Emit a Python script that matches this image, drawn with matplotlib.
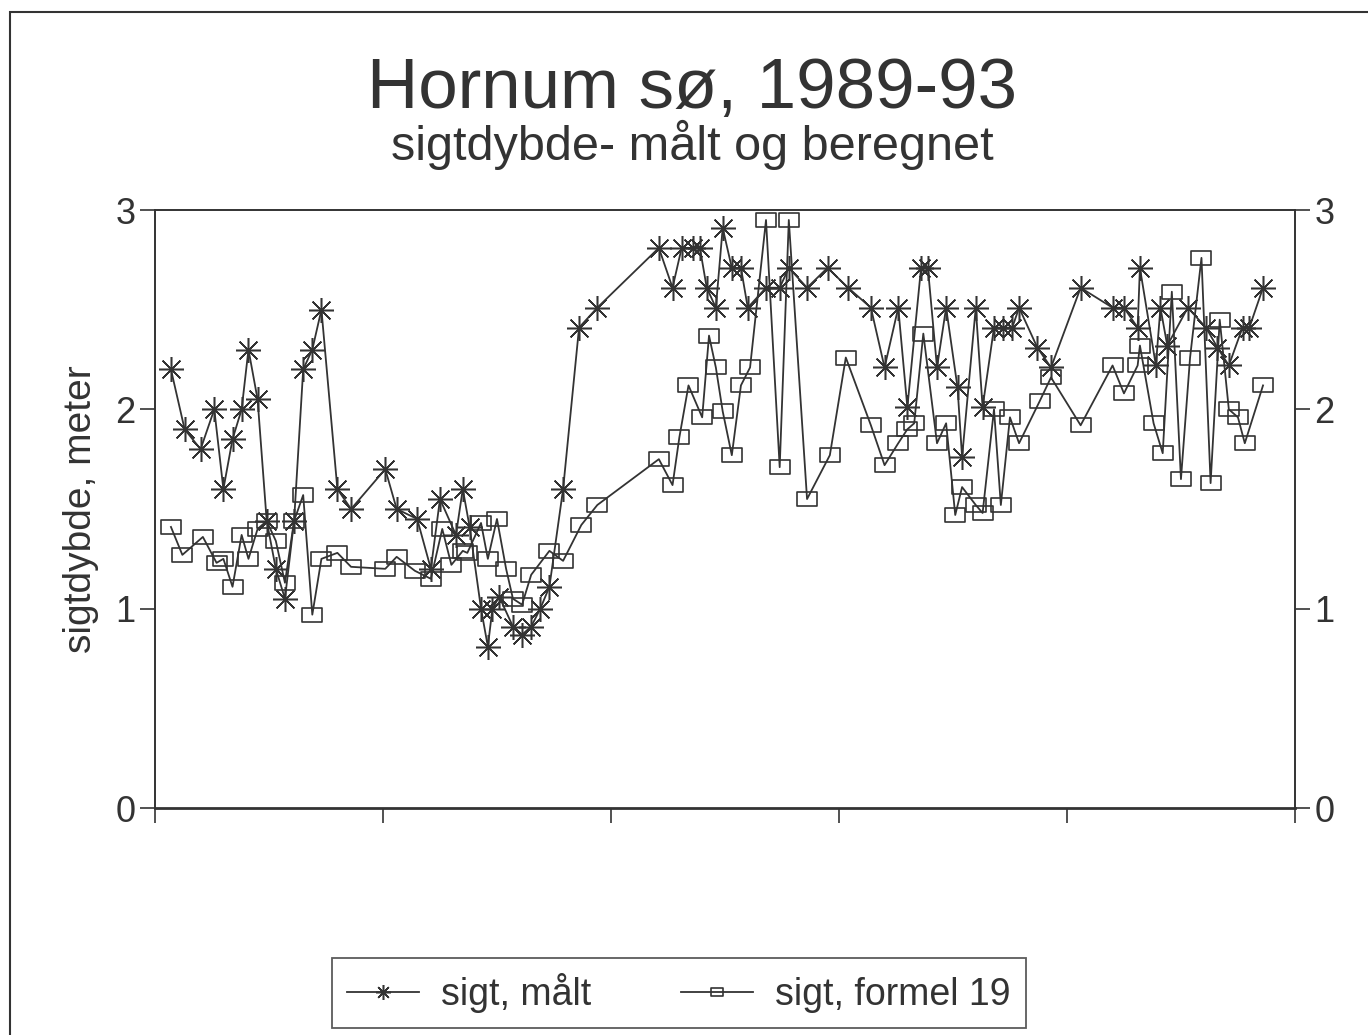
import numpy as np
import matplotlib
matplotlib.use("Agg")
import matplotlib.pyplot as plt
from matplotlib.path import Path
from matplotlib.patches import Rectangle

plt.rcParams['font.family'] = ['Liberation Sans', 'DejaVu Sans']

# Sampling dates (decimal years) and measured Secchi depth (m)
maalt_tid = [1989.07, 1989.13, 1989.20, 1989.26, 1989.30, 1989.34, 1989.38, 1989.41, 1989.45, 1989.49,
             1989.53, 1989.57, 1989.61, 1989.65, 1989.69, 1989.73, 1989.80, 1989.86, 1990.01, 1990.06,
             1990.15, 1990.21, 1990.25, 1990.32, 1990.35, 1990.38, 1990.43, 1990.46, 1990.48, 1990.51,
             1990.57, 1990.61, 1990.65, 1990.69, 1990.73, 1990.79, 1990.86, 1990.94, 1991.21, 1991.27,
             1991.31, 1991.36, 1991.39, 1991.42, 1991.46, 1991.49, 1991.53, 1991.57, 1991.60, 1991.68,
             1991.74, 1991.78, 1991.86, 1991.95, 1992.04, 1992.14, 1992.20, 1992.26, 1992.30, 1992.36,
             1992.39, 1992.43, 1992.47, 1992.52, 1992.54, 1992.60, 1992.63, 1992.68, 1992.72, 1992.76,
             1992.79, 1992.87, 1992.93, 1993.06, 1993.20, 1993.25, 1993.31, 1993.32, 1993.39, 1993.41,
             1993.44, 1993.53, 1993.61, 1993.66, 1993.71, 1993.77, 1993.80, 1993.86]
maalt_sigt = [2.20, 1.90, 1.80, 2.00, 1.60, 1.85, 2.00, 2.30, 2.05, 1.44,
              1.20, 1.05, 1.44, 2.20, 2.30, 2.50, 1.60, 1.50, 1.70, 1.50,
              1.45, 1.20, 1.55, 1.37, 1.60, 1.41, 1.00, 0.81, 1.00, 1.06,
              0.91, 0.87, 0.91, 1.00, 1.11, 1.60, 2.41, 2.51, 2.81, 2.61,
              2.81, 2.81, 2.81, 2.61, 2.51, 2.91, 2.71, 2.71, 2.51, 2.61,
              2.61, 2.71, 2.61, 2.71, 2.61, 2.51, 2.21, 2.51, 2.01, 2.71,
              2.71, 2.21, 2.51, 2.11, 1.76, 2.51, 2.01, 2.41, 2.41, 2.41,
              2.51, 2.31, 2.21, 2.61, 2.51, 2.51, 2.41, 2.71, 2.22, 2.51,
              2.32, 2.51, 2.41, 2.31, 2.22, 2.41, 2.41, 2.61]

# Calculated Secchi depth (formel 19)
formel_tid = [1989.07, 1989.12, 1989.21, 1989.27, 1989.30, 1989.34, 1989.38, 1989.41, 1989.45, 1989.49,
              1989.53, 1989.57, 1989.61, 1989.65, 1989.69, 1989.73, 1989.80, 1989.86, 1990.01, 1990.06,
              1990.14, 1990.21, 1990.26, 1990.30, 1990.35, 1990.37, 1990.43, 1990.46, 1990.50, 1990.54,
              1990.57, 1990.61, 1990.65, 1990.73, 1990.79, 1990.87, 1990.94, 1991.21, 1991.27, 1991.30,
              1991.34, 1991.40, 1991.43, 1991.46, 1991.49, 1991.53, 1991.57, 1991.61, 1991.68, 1991.74,
              1991.78, 1991.86, 1991.96, 1992.03, 1992.14, 1992.20, 1992.26, 1992.30, 1992.33, 1992.37,
              1992.43, 1992.47, 1992.51, 1992.54, 1992.60, 1992.63, 1992.68, 1992.71, 1992.75, 1992.79,
              1992.88, 1992.93, 1993.06, 1993.20, 1993.25, 1993.31, 1993.32, 1993.38, 1993.42, 1993.46,
              1993.50, 1993.54, 1993.59, 1993.63, 1993.67, 1993.71, 1993.75, 1993.78, 1993.86]
formel_sigt = [1.41, 1.27, 1.36, 1.23, 1.25, 1.11, 1.37, 1.25, 1.40, 1.44,
               1.34, 1.13, 1.44, 1.57, 0.97, 1.25, 1.28, 1.21, 1.20, 1.26,
               1.19, 1.15, 1.40, 1.22, 1.29, 1.28, 1.43, 1.25, 1.45, 1.20,
               1.05, 1.02, 1.17, 1.29, 1.24, 1.42, 1.52, 1.75, 1.62, 1.86,
               2.12, 1.96, 2.37, 2.21, 1.99, 1.77, 2.12, 2.21, 2.95, 1.71,
               2.95, 1.55, 1.77, 2.26, 1.92, 1.72, 1.83, 1.90, 1.93, 2.38,
               1.83, 1.93, 1.47, 1.61, 1.52, 1.48, 2.00, 1.52, 1.96, 1.83,
               2.04, 2.16, 1.92, 2.22, 2.08, 2.22, 2.32, 1.93, 1.78, 2.59,
               1.65, 2.26, 2.76, 1.63, 2.45, 2.00, 1.96, 1.83, 2.12]

aar_ticks = [1989, 1990, 1991, 1992, 1993, 1994]
y_ticks = [0, 1, 2, 3]

ink = '#333333'

# 8-armed asterisk and a slightly wide rectangle as markers
asterisk = (8, 2, 0)
rect = Path([(-1, -0.72), (1, -0.72), (1, 0.72), (-1, 0.72), (-1, -0.72)],
            [Path.MOVETO, Path.LINETO, Path.LINETO, Path.LINETO, Path.CLOSEPOLY])

fig = plt.figure(figsize=(13.68, 10.35), dpi=100)
ax = fig.add_axes([0.1133, 0.2193, 0.8333, 0.5778])

ax.plot(maalt_tid, maalt_sigt, color=ink, lw=1.3, marker=asterisk, ms=18,
        mew=1.1, mec=ink, label='sigt, målt', zorder=3)
ax.plot(formel_tid, formel_sigt, color=ink, lw=1.3, marker=rect, ms=14,
        mew=1.2, mec=ink, mfc='none', label='sigt, formel 19', zorder=3)

ax.set_xlim(aar_ticks[0], aar_ticks[-1])
ax.set_ylim(0, 3)
ax.set_xticks(aar_ticks)
ax.set_xticklabels([])
ax.set_yticks(y_ticks)
ax.tick_params(axis='y', which='both', left=True, right=True, labelleft=True,
               labelright=True, direction='out', length=11, width=1.2,
               labelsize=26, colors=ink, pad=3)
ax.tick_params(axis='x', direction='out', length=11, width=1.2, colors=ink)
for s in ax.spines.values():
    s.set_color(ink)
    s.set_linewidth(1.4)
ax.spines['bottom'].set_linewidth(2)

ax.set_ylabel('sigtdybde, meter', fontsize=28, color=ink, labelpad=12)

# titles
fig.text(0.506, 0.8957, 'Hornum sø, 1989-93', ha='center', va='baseline',
         fontsize=51, color=ink)
fig.text(0.506, 0.8454, 'sigtdybde- målt og beregnet', ha='center', va='baseline',
         fontsize=35, color=ink)

# legend box at the bottom
leg = fig.legend(loc='center', bbox_to_anchor=(0.4963, 0.0405), ncol=2,
                 fontsize=27, frameon=True, fancybox=False, edgecolor=ink,
                 handlelength=1.9, columnspacing=2.4, borderpad=0.4,
                 handletextpad=0.6, markerscale=0.6)
leg.get_frame().set_linewidth(1.3)
for t in leg.get_texts():
    t.set_color(ink)

# scanned page frame
fig.patches.append(Rectangle((10 / 1368, -0.2), 1.2, 1.2 - 12 / 1035,
                             transform=fig.transFigure, fill=False,
                             edgecolor=ink, lw=1.5))

fig.savefig('out.png', dpi=100, facecolor='white')
